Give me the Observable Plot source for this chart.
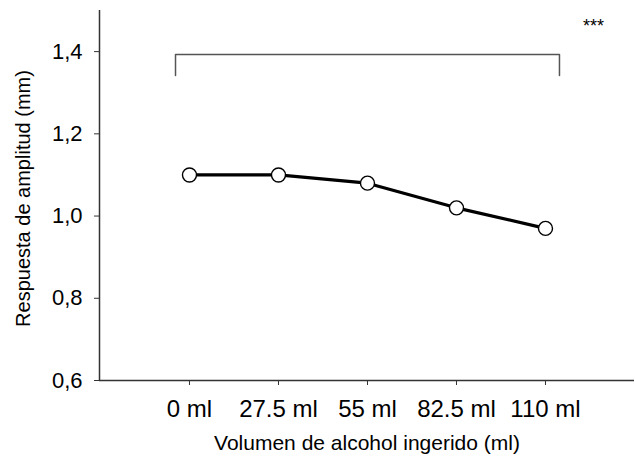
<!DOCTYPE html>
<html>
<head>
<meta charset="utf-8">
<script src="https://cdn.jsdelivr.net/npm/d3@7"></script>
<script src="https://cdn.jsdelivr.net/npm/@observablehq/plot@0.6"></script>
<style>
  html, body { margin: 0; padding: 0; background: #fff; }
  #chart { width: 635px; height: 459px; }
</style>
</head>
<body>
<div id="chart"></div>
<script>
// ---- data ----
const categories = ["0 ml", "27.5 ml", "55 ml", "82.5 ml", "110 ml"];
const values = [1.10, 1.10, 1.08, 1.02, 0.97];
const yTicks = [0.6, 0.8, 1.0, 1.2, 1.4];
const yTickLabels = ["0,6", "0,8", "1,0", "1,2", "1,4"];
const xTitle = "Volumen de alcohol ingerido (ml)";
const yTitle = "Respuesta de amplitud (mm)";
const bracketTop = 1.393;
const bracketBottom = 1.342;
const bracketStart = -0.157;
const bracketEnd = 4.157;
const signifLabel = "***";
const signifPos = 4.54;
const signifY = 1.462;

const rows = categories.map((c, i) => ({i, c, v: values[i]}));
const font = "'Liberation Sans', Arial, sans-serif";

const chart = Plot.plot({
  width: 635,
  height: 459,
  marginLeft: 99,
  marginRight: 1,
  marginTop: 10,
  marginBottom: 79,
  style: {fontFamily: font, background: "#fff", color: "#000"},
  x: {type: "linear", domain: [-1.011, 5.0]},
  y: {domain: [0.6, 1.5]},
  marks: [
    // axis lines
    Plot.ruleX([-1.011], {stroke: "#333", strokeWidth: 1.5}),
    Plot.ruleY([0.6], {stroke: "#333", strokeWidth: 1.5}),
    Plot.axisY({
      ticks: yTicks,
      tickFormat: d => yTickLabels[yTicks.findIndex(t => Math.abs(t - d) < 1e-9)],
      tickSize: 5,
      tickPadding: 12,
      fontSize: 22,
      label: null,
      stroke: "#333"
    }),
    Plot.axisX({
      ticks: categories.map((c, i) => i),
      tickFormat: d => categories[d],
      tickSize: 5,
      tickPadding: 14,
      fontSize: 24,
      label: null,
      stroke: "#333"
    }),
    // titles
    Plot.text([yTitle], {
      frameAnchor: "left", dx: -76, dy: 3, rotate: -90,
      textAnchor: "middle", lineAnchor: "middle", fontSize: 20, fill: "#000"
    }),
    Plot.text([xTitle], {
      frameAnchor: "bottom", dy: 63,
      textAnchor: "middle", lineAnchor: "middle", fontSize: 21, fill: "#000"
    }),
    // significance bracket
    Plot.line(
      [[bracketStart, bracketBottom], [bracketStart, bracketTop], [bracketEnd, bracketTop], [bracketEnd, bracketBottom]],
      {x: d => d[0], y: d => d[1], stroke: "#555", strokeWidth: 1.5, curve: "linear"}
    ),
    Plot.text([signifLabel], {
      x: () => signifPos, y: () => signifY,
      fontSize: 18, fill: "#000", textAnchor: "middle"
    }),
    // data line + points
    Plot.line(rows, {x: "i", y: "v", stroke: "#000", strokeWidth: 3.2}),
    Plot.dot(rows, {x: "i", y: "v", r: 7, fill: "#fff", stroke: "#000", strokeWidth: 1.4})
  ]
});
document.getElementById("chart").appendChild(chart);
</script>
</body>
</html>
